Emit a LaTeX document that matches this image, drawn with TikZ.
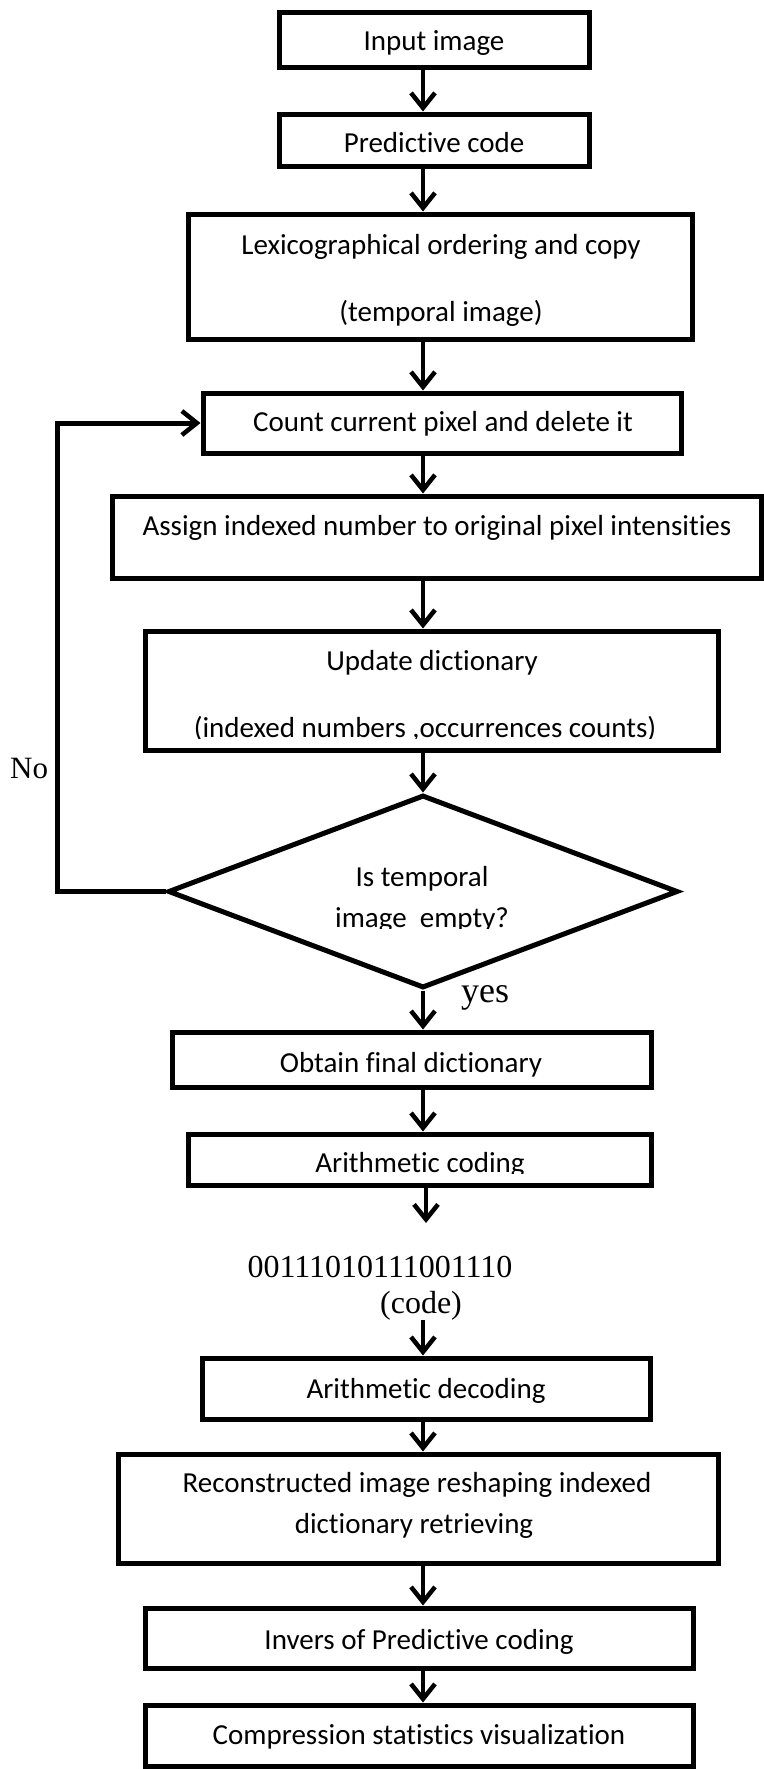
\documentclass[tikz,border=0pt]{standalone}
\usepackage{fontspec}
\setmainfont{Liberation Serif}
\newfontfamily\boxfont[Ligatures=NoCommon]{Carlito}
\usetikzlibrary{arrows.meta,shapes.geometric}
\begin{document}
\begin{tikzpicture}[x=1pt,y=-1pt,
  box/.style={draw, line width=5pt, inner sep=0pt, rectangle},
  dec/.style={draw, line width=5pt, inner sep=0pt, diamond},
  lbl/.style={font=\boxfont\fontsize{29}{35}\selectfont, anchor=base, inner sep=0pt},
  serif/.style={font=\fontsize{32}{38}\selectfont, anchor=base, inner sep=0pt},
  arr/.style={line width=4.5pt, -{Straight Barb[length=15pt,width=24pt]}},
  loopline/.style={line width=5pt, -{Straight Barb[length=15pt,width=24pt,line width=4.5pt]}}
]
\useasboundingbox (0,0) rectangle (763,1769);

% main axis of the flow and the loop-back column
\coordinate (ax) at (423,0);
\coordinate (lp) at (57,0);

% process boxes
\node[box, minimum width=310pt, minimum height=55pt]  (in)  at (434,40.5)   {};
\node[box, minimum width=310pt, minimum height=52pt]  (pc)  at (434,140)    {};
\node[box, minimum width=504pt, minimum height=125pt] (lex) at (440,276.5)  {};
\node[box, minimum width=478pt, minimum height=60pt]  (cnt) at (442,423)    {};
\node[box, minimum width=649pt, minimum height=82pt]  (asg) at (436.5,537)  {};
\node[box, minimum width=573pt, minimum height=119pt] (upd) at (431.5,690.5){};
\node[dec, minimum width=510pt, minimum height=193pt] (dia) at (423,891.5)  {};
\node[box, minimum width=479pt, minimum height=55pt]  (obt) at (411.5,1059.5){};
\node[box, minimum width=463pt, minimum height=51pt]  (ari) at (419.5,1159.5){};
\node[box, minimum width=448pt, minimum height=61pt]  (adc) at (426,1388.5) {};
\node[box, minimum width=600pt, minimum height=109pt] (rec) at (418,1508.5) {};
\node[box, minimum width=548pt, minimum height=60pt]  (inv) at (419,1638)   {};
\node[box, minimum width=548pt, minimum height=61pt]  (cmp) at (419,1735.5) {};

% box texts
\node[lbl] (tin)   at (434,51)   {Input image};
\node[lbl] (tpc)   at (434,152)  {Predictive code};
\node[lbl] (tlex1) at (441,254)  {Lexicographical ordering and copy};
\node[lbl] (tlex2) at (441,321)  {(temporal image)};
\node[lbl] (tcnt)  at (443,431)  {Count current pixel and delete it};
\node[lbl] (tasg)  at (437,535)  {Assign indexed number to original pixel intensities};
\node[lbl] (tupd1) at (432,670)  {Update dictionary};
\begin{scope}
  \clip (0,0) rectangle (763,738.5);
  \node[lbl] (tupd2) at (425,737) {(indexed numbers ,occurrences counts)};
\end{scope}
\node[lbl] (tdia1) at (422,886)  {Is temporal};
\begin{scope}
  \clip (0,0) rectangle (763,928.5);
  \node[lbl] (tdia2) at (422,927) {image\ \ empty?};
\end{scope}
\node[lbl] (tobt)  at (411,1072) {Obtain final dictionary};
\begin{scope}
  \clip (0,0) rectangle (763,1173);
  \node[lbl] (tari) at (420,1172) {Arithmetic coding};
\end{scope}
\node[serif] (tcode) at (380,1277) {00111010111001110};
\node[serif] (tcodelbl) at (421,1313) {(code)};
\node[lbl] (tadc)  at (426,1398) {Arithmetic decoding};
\node[lbl] (trec1) at (417,1492) {Reconstructed image reshaping indexed};
\node[lbl] (trec2) at (414,1533) {dictionary retrieving};
\node[lbl] (tinv)  at (419,1649) {Invers of Predictive coding};
\node[lbl] (tcmp)  at (419,1744) {Compression statistics visualization};

% branch labels
\node[serif, font=\fontsize{31}{37}\selectfont, anchor=base west] (tno) at (10,778) {No};
\node[serif, font=\fontsize{36}{42}\selectfont, anchor=base west] (tyes) at (461,1002) {yes};

% flow arrows
\draw[arr] (in.south -| ax)  -- (pc.north -| ax);
\draw[arr] (pc.south -| ax)  -- (lex.north -| ax);
\draw[arr] (lex.south -| ax) -- (cnt.north -| ax);
\draw[arr] (cnt.south -| ax) -- (asg.north -| ax);
\draw[arr] (asg.south -| ax) -- (upd.north -| ax);
\draw[arr] (upd.south -| ax) -- (dia.north);
\draw[arr] (dia.south)       -- (obt.north -| dia.south);
\draw[arr] (obt.south -| ax) -- (ari.north -| ax);
\coordinate (ariend) at (426,1223);
\draw[arr] (ari.south -| ariend) -- (ariend);
\draw[arr] (tcodelbl.south -| ax) -- (adc.north -| ax);
\draw[arr] (adc.south -| ax) -- (rec.north -| ax);
\draw[arr] (rec.south -| ax) -- (inv.north -| ax);
\draw[arr] (inv.south -| ax) -- (cmp.north -| ax);

% loop back when the temporal image is not empty
\draw[loopline] (dia.west) -- (dia.west -| lp) |- (cnt.west);
\end{tikzpicture}
\end{document}
